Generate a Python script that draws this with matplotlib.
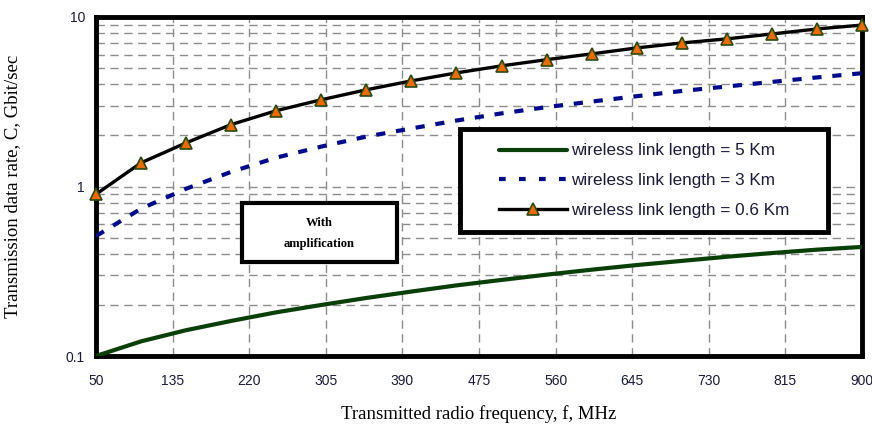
import matplotlib
matplotlib.use("Agg")
import matplotlib.pyplot as plt
from matplotlib.patches import Rectangle
from matplotlib.lines import Line2D

freq = [50, 100, 150, 200, 250, 300, 350, 400, 450, 500, 550, 600, 650, 700, 750, 800, 850, 900]
rate_5km = [0.100, 0.122, 0.142, 0.161, 0.181, 0.200, 0.220, 0.240, 0.261, 0.281, 0.302, 0.323, 0.344, 0.364, 0.385, 0.405, 0.424, 0.440]
rate_3km = [0.51, 0.74, 0.97, 1.22, 1.48, 1.72, 1.97, 2.20, 2.45, 2.70, 2.94, 3.17, 3.41, 3.66, 3.89, 4.14, 4.40, 4.66]
rate_06km = [0.90, 1.38, 1.81, 2.32, 2.80, 3.25, 3.72, 4.20, 4.68, 5.15, 5.60, 6.06, 6.57, 7.03, 7.43, 7.94, 8.50, 8.96]
xticks = [50, 135, 220, 305, 390, 475, 560, 645, 730, 815, 900]
yticks = [0.1, 1, 10]
ytick_labels = ["0.1", "1", "10"]
labels = ["wireless link length = 5 Km", "wireless link length = 3 Km", "wireless link length = 0.6 Km"]

W, H = 872, 425
fig = plt.figure(figsize=(W / 100, H / 100), dpi=100)
ax = fig.add_axes([96 / W, 1 - 356 / H, (862 - 96) / W, (356 - 17) / H])
ax.set_yscale("log")
ax.set_xlim(50, 900)
ax.set_ylim(0.1, 10)

grid_kw = dict(color="#8c8c8c", linestyle=(0, (6, 4)), linewidth=1.0)
ax.grid(True, which="major", axis="both", **grid_kw)
ax.grid(True, which="minor", axis="y", **grid_kw)
ax.set_axisbelow(True)

green = "#0a3f0a"
navy = "#000a8c"
l1, = ax.plot(freq, rate_5km, color=green, lw=3.0, solid_capstyle="round", zorder=3)
l2, = ax.plot(freq, rate_3km, color=navy, lw=3.0, linestyle=(0, (2.2, 2.6)), zorder=3)
l3, = ax.plot(freq, rate_06km, color="black", lw=2.4, marker="^", markersize=9,
              markerfacecolor="#f06a00", markeredgecolor="#2a4a10", markeredgewidth=1.2,
              zorder=4, clip_on=False)

ax.set_xticks(xticks)
ax.set_xticklabels([str(t) for t in xticks])
ax.set_yticks(yticks)
ax.set_yticklabels(ytick_labels)
ax.yaxis.set_minor_formatter(matplotlib.ticker.NullFormatter())
ax.tick_params(which="both", length=0)
ax.tick_params(axis="x", pad=13, labelsize=10, labelcolor="#1a1a3a")
ax.tick_params(axis="y", pad=8, labelsize=10, labelcolor="#1a1a3a")
for lab in ax.get_xticklabels() + ax.get_yticklabels():
    lab.set_family("Liberation Sans")

for s in ax.spines.values():
    s.set_linewidth(3.5)
    s.set_color("black")

ax.set_xlabel("Transmitted radio frequency, f, MHz", family="Liberation Serif", fontsize=13.5, labelpad=12)
ax.set_ylabel("Transmission data rate, C, Gbit/sec", family="Liberation Serif", fontsize=13.5, labelpad=20)
ax.yaxis.set_label_coords(-0.098, 0.5)

# "With amplification" box
bx0, by0, bx1, by1 = 242, 203, 397, 262
fig.patches.append(Rectangle((bx0 / W, 1 - by1 / H), (bx1 - bx0) / W, (by1 - by0) / H,
                             transform=fig.transFigure, facecolor="white", edgecolor="black",
                             linewidth=3, zorder=5))
fig.text((bx0 + bx1) / 2 / W, 1 - 223 / H, "With", ha="center", va="center",
         family="Liberation Serif", fontweight="bold", fontsize=9, zorder=6)
fig.text((bx0 + bx1) / 2 / W, 1 - 244 / H, "amplification", ha="center", va="center",
         family="Liberation Serif", fontweight="bold", fontsize=9, zorder=6)

# legend box
lx0, ly0, lx1, ly1 = 460, 129, 828, 232
fig.patches.append(Rectangle((lx0 / W, 1 - ly1 / H), (lx1 - lx0) / W, (ly1 - ly0) / H,
                             transform=fig.transFigure, facecolor="white", edgecolor="black",
                             linewidth=3.5, zorder=5))
h1 = Line2D([], [], color=green, lw=3.0, solid_capstyle="round")
h2 = Line2D([], [], color=navy, lw=3.0, linestyle=(0, (1.6, 3.2)))
h3 = Line2D([], [], color="black", lw=2.4, marker="^", markersize=8,
            markerfacecolor="#f06a00", markeredgecolor="#2a4a10", markeredgewidth=1.2)
leg = fig.legend([h1, h2, h3], labels, loc="center",
                 bbox_to_anchor=((lx0 + lx1) / 2 / W, 1 - (ly0 + ly1) / 2 / H),
                 frameon=False, prop={"family": "Liberation Sans", "size": 12.3},
                 handlelength=4.0, handletextpad=0.2, labelspacing=0.85, borderpad=0)
leg.set_zorder(6)
for t in leg.get_texts():
    t.set_color("#1a1a3a")

fig.savefig("out.png", dpi=100)
